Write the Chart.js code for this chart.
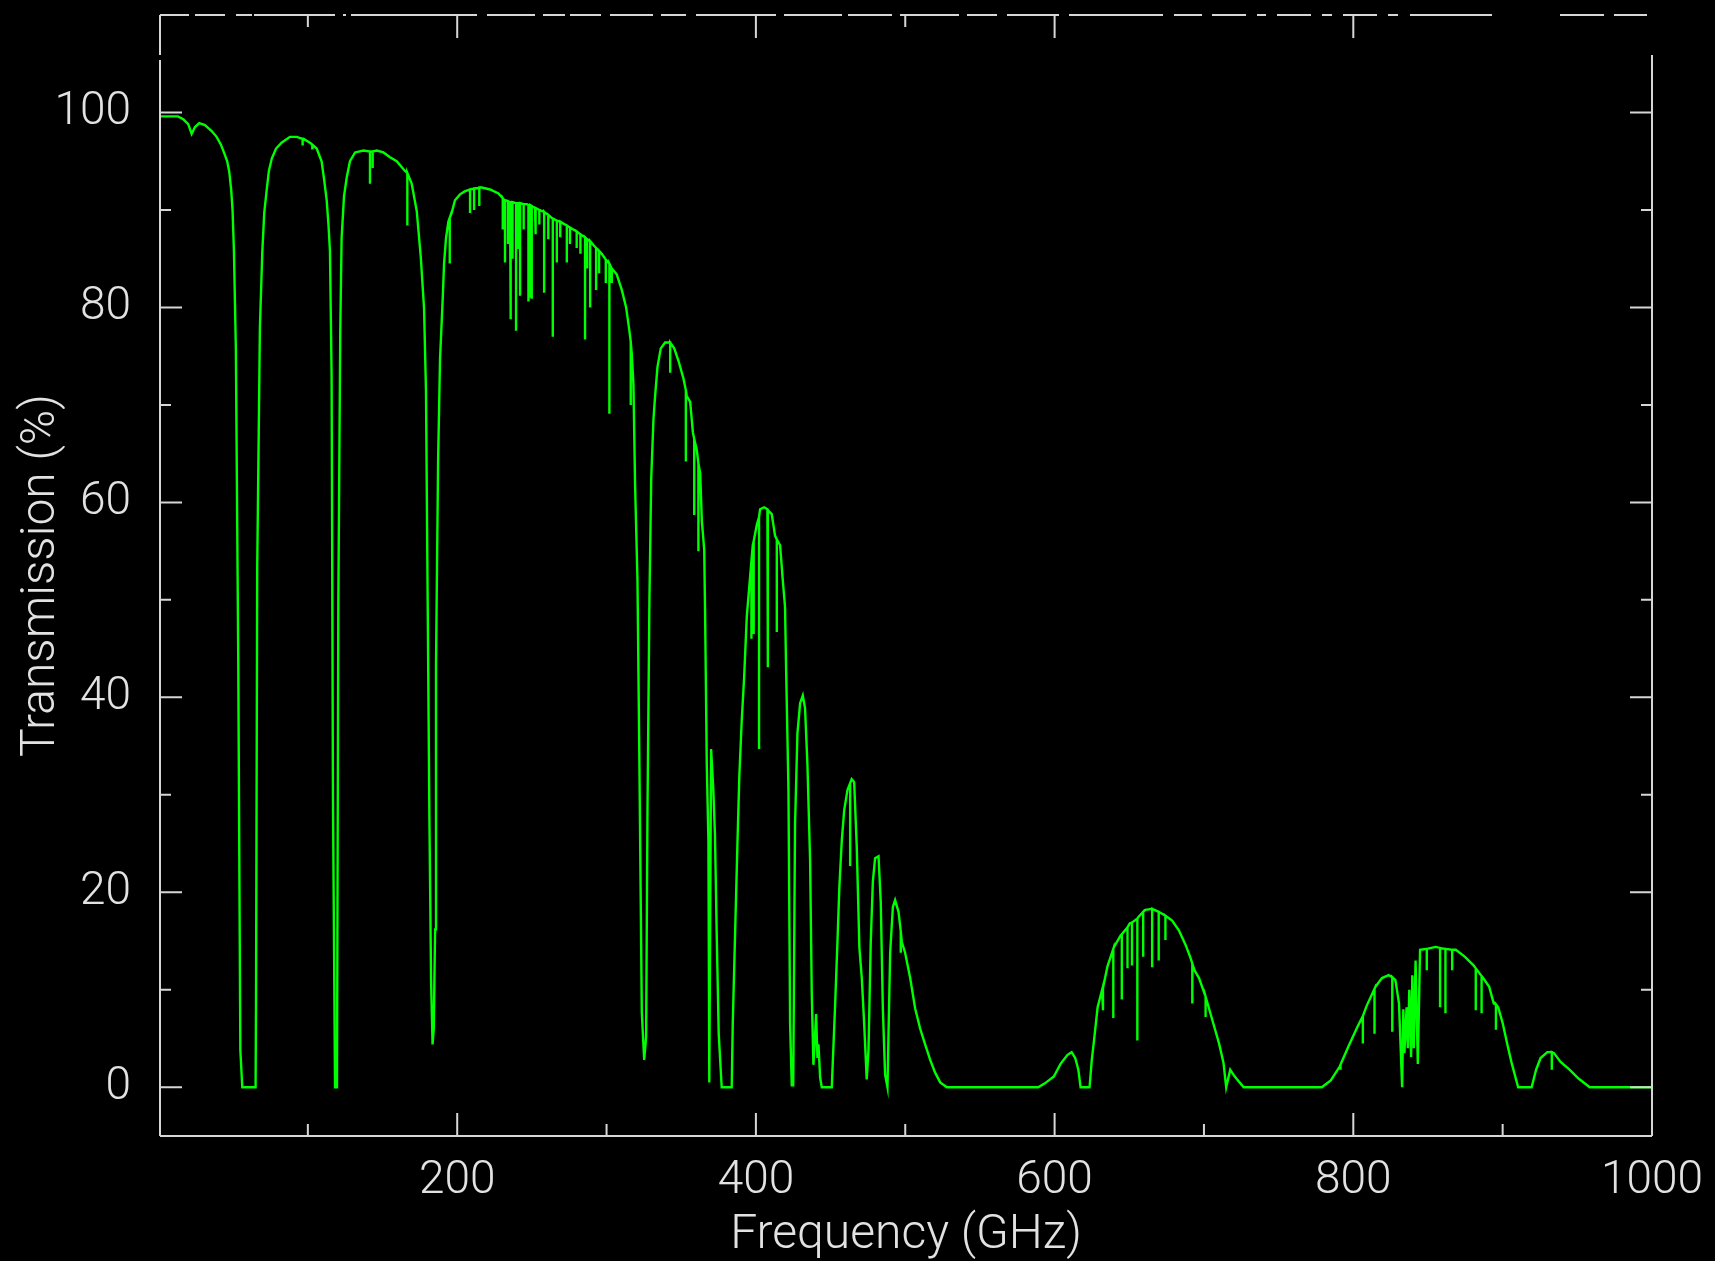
<!DOCTYPE html>
<html>
<head>
<meta charset="utf-8">
<script src="https://cdn.jsdelivr.net/npm/chart.js@4/dist/chart.umd.min.js"></script>
<style>
  html, body { margin: 0; padding: 0; background: #000; }
  #wrap { width: 1715px; height: 1261px; position: relative; }
</style>
</head>
<body>
<div id="wrap"><canvas id="atm"></canvas></div>
<script>
// Atmospheric transmission vs frequency.
// Continuum points [GHz, %]
const lowBand = [
  [1,99.6],[13,99.6],[16.6,99.3],[19.9,98.8],[22.2,97.8],[24.4,98.5],[27.3,98.9],[31.1,98.7],[35.6,98.1],
  [38.9,97.5],[41.8,96.7],[43.8,95.9],[46,95.0],[47.4,93.9],[48.7,92.0],[49.6,89.9],[50.5,85.8],[51.8,75.7],
  [53.4,43.7],[54.8,3.8],[56.1,0],[65,0],[65.3,9.2],[66.1,53.5],[67.9,78],[69.5,85.7],[70.8,89.7],[72.4,92],
  [73.9,94],[75.9,95.3],[78.7,96.3],[82.4,96.9],[88,97.5],[92.5,97.5],[97,97.3],[101.4,96.9],[105.9,96.3],
  [109.2,95],[111,93],[112.6,91],[113.8,88.5],[114.8,85.8],[115.9,73],[116.8,30],[118.2,0],[119.5,0],
  [120.4,49.5],[121.7,77.6],[122.6,87.1],[124.2,91.4],[126,93.3],[128.2,95],[131.6,95.9],[137.2,96.1],
  [146.1,96.1],[150.6,95.9],[155,95.4],[159.5,95],[165,94],[169.5,92.7],[172.9,89.9],[175.6,85.2],
  [177.8,79.9],[179.1,71.4],[180,54.1],[181.4,27.5],[182.5,11],[183.5,4.4],[184.3,6],[185.2,16.2],
  [185.8,43.3],[187.2,64.2],[188.5,74.7],[190.3,80.9],[191.2,84.5],[192.5,87.1],[194.1,88.8],[196.3,89.7],
  [198.5,91],[201.9,91.6],[205,91.9],[208.6,92.1],[212,92.2],[216.4,92.3],[222,92.1],[227.6,91.7],
  [230.9,91.1],[235.4,90.8],[242.1,90.7],[246.6,90.6],[252.1,90.2],[258.8,89.7],[264.4,89.1],[271.1,88.6],
  [277.8,88],[284.5,87.3],[291.2,86.4],[296.8,85.5],[301.3,84.6],[306.8,83.4],[310.2,81.8],[313.1,80],
  [315.3,77.6],[316.9,75.2],[318,72.1],[319.1,61.8],[320.7,52],[322,33.2],[323.6,7.7],[325.2,2.8],
  [326.5,5.2],[327.4,28.3],[328.7,49.9],[329.9,62.4]
];
const midBand = [
  [331.4,68.5],[332.5,70.9],[334.1,73.9],[336.3,75.8],[339.2,76.4],[342.1,76.4],[345.3,75.8],[348.2,74.5],
  [351.5,72.7],[353.7,70.9],[356,70.3],[357.8,67.2],[360.4,65.4],[362.7,63],[363.8,58.1],[365.4,55.1],
  [366,48.4],[367.1,33.2],[368.2,25.3],[368.8,0.5],[370,34.7],[371.5,30.5],[372.6,25.8],[373.8,15.4],
  [375.1,5.5],[377.1,0],[383.8,0],[384.5,6.5],[386,15.4],[387.6,24.8],[388.9,31.9],[390.5,37.6],[392.1,42],
  [393.9,48.3],[395.6,51.4],[397.9,55.6],[400.6,57.7],[402.8,59.3],[405.5,59.5],[407.7,59.3],[410.6,58.8],
  [412.8,56.6],[416.2,55.6],[418,52],[419.5,49.3],[420.2,43.1],[421.8,30.5],[422.9,6.5],[424,0.2],[425,0.2],
  [426.2,26.9],[427.8,36.3],[429.6,39.4],[431.4,40.2],[432.9,38.9],[434.5,33.1],[436.3,23.2],[437.4,9.6],
  [438.5,2.3],[439.5,5],[440.3,7.5],[441.2,3],[441.9,4.4],[443,1],[444.1,0],[450.8,0],[453,8.3],[454.6,14.9],
  [455.9,20.6],[457.5,25.3],[459.1,28.4],[461.3,30.5],[464.2,31.6],[465.8,31.3],[467.5,24.8],[469.3,14.3],
  [470.9,11.2],[472.5,6.5],[474.2,0.8],[475.4,3.9],[476.9,14.9],[478.3,21.1],[479.8,23.5],[482.1,23.7],
  [483.6,19],[485,8.1],[486.5,1.3],[488.1,0],[488.8,5.5],[489.9,13.8],[491.7,18.5],[493.2,19.2],[495.5,18],
  [497.7,14.9],[499.9,13.8],[503.3,11.2],[506.6,8.1],[510,6],[513.3,4.4],[516.7,2.8],[520,1.5],[523.4,0.5],
  [527.8,0]
];
const highBand = [
  [589,0],[593.5,0.4],[599.5,1.1],[604,2.4],[608.5,3.3],[611.4,3.6],[613.8,3],[615.9,1.8],[617.4,0],
  [623.4,0],[624.9,2.8],[626.4,4.8],[628.8,8.2],[631.8,10],[635.4,12.4],[639.8,14.4],[644.3,15.6],
  [650.3,16.8],[656.3,17.5],[660.8,18.2],[665.3,18.3],[669.7,18],[674.2,17.6],[678.7,17.1],[683.2,16.1],
  [687.7,14.6],[690.7,13.4],[693.7,12],[696.7,11.2],[701.1,9.3],[705.6,6.9],[710.1,4.5],[713.1,2.5],
  [714.9,0],[717.6,1.8],[720.6,1.1],[726.6,0],[778.9,0],[784.9,0.7],[790.8,2.1],[796.8,4.2],[802.8,6.2],
  [808.8,8.3],[814.8,10.3],[819.2,11.2],[823.7,11.5],[828.2,11],[830.6,8.6],[832.7,0],[833.5,8],[834.2,3.5],
  [835.7,8.2],[836.5,4],[837.5,10],[838.7,3.1],[839.5,11.5],[840.5,4],[841.7,13],[843.2,2.4],[844.7,14.1],
  [849.2,14.2],[855.1,14.4],[861.1,14.2],[868.6,14.1],[874.6,13.4],[880.5,12.5],[886.5,11.3],[891,10.3],
  [894,8.6],[897,8.2],[900,6.6],[903,4.5],[906,2.5],[910.4,0],[919.4,0],[922.4,1.8],[925.4,3],[929.9,3.6],
  [934.4,3.5],[938.8,2.6],[944.8,1.8],[950.8,0.9],[958.3,0],[1000,0]
];
// Narrow absorption lines [GHz, % at top, % at bottom of the spike]
const absorptionLines = [
  [96.5,97.3,96.6],[103,96.7,96.2],[141.6,96,92.7],[143.4,96,94.3],[166.6,93.8,88.4],[195,89.2,84.5],
  [208.6,92.1,89.7],[211.3,92.2,90],[214.8,92.3,90.4],
  [230.5,91.2,88],[232,91,84.6],[234,90.9,86.5],[235.8,90.8,78.8],[237,90.8,85],[239.4,90.7,77.6],
  [240.5,90.7,86],[242.1,90.7,81.2],[244.5,90.6,88],[247.7,90.5,80.6],[248.8,90.5,81],[249.9,90.4,80.9],
  [252.5,90.2,87.5],[255,90,88.5],[258.2,89.8,81.5],[261,89.5,87],[264,89.1,77],[266.7,88.9,84.6],
  [269,88.8,87.2],[273.4,88.4,84.6],[275.5,88.2,86.5],[280,87.8,86.1],[282.5,87.5,85.5],[285.6,87.2,76.7],
  [287,87,84],[289,86.8,80],[293,86.1,81.8],[295,85.8,83.5],[299.5,84.9,82.5],[301.9,84.5,69.1],
  [303.5,84,82.5],[316.2,76.5,70],
  [342.6,76.4,73.3],[353.1,71.5,64.2],[358.7,66.5,58.7],[361.5,64,55],
  [397,54,46],[398.5,56,46.5],[402.1,58.5,34.7],[408,59.2,43.1],[414,56.2,46.7],
  [463.1,31.2,22.7],[497,16,13.8],
  [632.4,10.2,7.9],[639.3,14.2,7.1],[645,15.7,9],[648.8,16.4,12.2],[651.8,16.9,12.5],[655.4,17.3,4.8],
  [659.3,18,13.4],[665.3,18.3,12.3],[669.7,18,13],[674.2,17.6,15.1],[692.2,12.7,8.6],[701.1,9.3,7.2],
  [791.4,2.3,1.8],[806.4,7.3,4.5],[814.2,10.1,5.5],[826.1,11.3,5.7],[849.2,14.2,12],[858.1,14.3,8.2],
  [861.7,14.2,7.6],[866.2,14.1,12],[882,12.2,7.9],[885.9,11.4,7.6],[895.5,8.5,5.9],[932.9,3.6,1.8]
];

// Axis ticks
const xTickLabels = [200, 400, 600, 800, 1000];
const yTickLabels = [0, 20, 40, 60, 80, 100];
const topTickValues = [100, 200, 400, 500, 600, 800]; // the top edge is missing a few ticks

// Frame look (PGPLOT style, broken top edge)
const FRAME_COLOR = '#d6d6d6';
const TEXT_COLOR = '#e2e2e2';
const topEdgeGaps = [[29,35],[65,76],[92,94],[175,183],[186,191],[317,327],[375,383],[405,410],[441,450],
  [493,501],[526,536],[616,624],[682,688],[732,740],[799,807],[837,847],[899,909],[1003,1014],[1042,1052],
  [1086,1097],[1106,1117],[1151,1162],[1172,1183],[1217,1228],[1238,1250],[1332,1400],[1444,1454],[1487,1492]];

// Build the series
const points = [];
[...lowBand, ...midBand, ...highBand].forEach(([f, t]) => points.push({ x: f, y: t }));
absorptionLines.forEach(([f, top, bottom]) => {
  points.push({ x: f, y: top }, { x: f, y: bottom }, { x: f, y: top });
});
points.sort((a, b) => a.x - b.x);

const framePlugin = {
  id: 'pgFrame',
  afterDatasetsDraw(chart) {
    const { ctx, chartArea: a, scales: { x, y } } = chart;
    ctx.save();
    ctx.strokeStyle = FRAME_COLOR;
    ctx.lineWidth = 2;
    ctx.beginPath();
    // bottom + left + right edges
    ctx.moveTo(a.left, a.bottom); ctx.lineTo(a.right, a.bottom);
    ctx.moveTo(a.left, a.bottom); ctx.lineTo(a.left, a.top + 45);
    ctx.moveTo(a.left, a.top + 40); ctx.lineTo(a.left, a.top);
    ctx.moveTo(a.right, a.bottom); ctx.lineTo(a.right, a.top + 40);
    // broken top edge
    let start = 0;
    topEdgeGaps.forEach(([g0, g1]) => {
      ctx.moveTo(a.left + start, a.top); ctx.lineTo(a.left + g0, a.top);
      start = g1;
    });
    // x ticks
    for (let v = 100; v < 1000; v += 100) {
      const px = x.getPixelForValue(v);
      const len = v % 200 === 0 ? 23 : 12;
      ctx.moveTo(px, a.bottom); ctx.lineTo(px, a.bottom - len);
    }
    topTickValues.forEach(v => {
      const px = x.getPixelForValue(v);
      const len = v % 200 === 0 ? 23 : 12;
      ctx.moveTo(px, a.top); ctx.lineTo(px, a.top + len);
    });
    // y ticks, both sides
    for (let v = 0; v <= 100; v += 10) {
      const py = y.getPixelForValue(v);
      const len = v % 20 === 0 ? 22 : 11;
      ctx.moveTo(a.left, py); ctx.lineTo(a.left + len, py);
      ctx.moveTo(a.right, py); ctx.lineTo(a.right - len, py);
    }
    ctx.stroke();
    ctx.restore();
  }
};

Chart.defaults.font.family = "Roboto, 'Liberation Sans', sans-serif";
Chart.defaults.font.weight = 300;
Chart.defaults.color = TEXT_COLOR;

new Chart(document.getElementById('atm'), {
  type: 'line',
  data: {
    datasets: [{
      data: points,
      borderColor: '#00ff00',
      borderWidth: 2.4,
      pointRadius: 0,
      tension: 0,
      fill: false
    }]
  },
  options: {
    responsive: true,
    maintainAspectRatio: false,
    animation: false,
    layout: { padding: { top: 15, right: 63, left: 0, bottom: 0 } },
    plugins: { legend: { display: false }, tooltip: { enabled: false } },
    scales: {
      x: {
        type: 'linear',
        min: 1,
        max: 1000,
        afterBuildTicks: s => { s.ticks = xTickLabels.map(v => ({ value: v })); },
        afterFit: s => { s.height = 125; s.paddingLeft = 0; s.paddingRight = 0; },
        grid: { display: false },
        border: { display: false },
        ticks: { font: { size: 46 }, padding: 10, maxRotation: 0, color: TEXT_COLOR, callback: v => String(v) },
        title: { display: true, text: 'Frequency (GHz)', font: { size: 48 }, padding: { top: 0, bottom: -4 }, color: TEXT_COLOR }
      },
      y: {
        min: -5,
        max: 110,
        afterBuildTicks: s => { s.ticks = yTickLabels.map(v => ({ value: v })); },
        afterFit: s => { s.width = 160; s.paddingTop = 0; s.paddingBottom = 0; },
        grid: { display: false },
        border: { display: false },
        ticks: { font: { size: 46 }, padding: 21, color: TEXT_COLOR, callback: v => String(v) },
        title: { display: true, text: 'Transmission (%)', font: { size: 48 }, padding: { top: 13, bottom: 0 }, color: TEXT_COLOR }
      }
    }
  },
  plugins: [framePlugin]
});
</script>
</body>
</html>
